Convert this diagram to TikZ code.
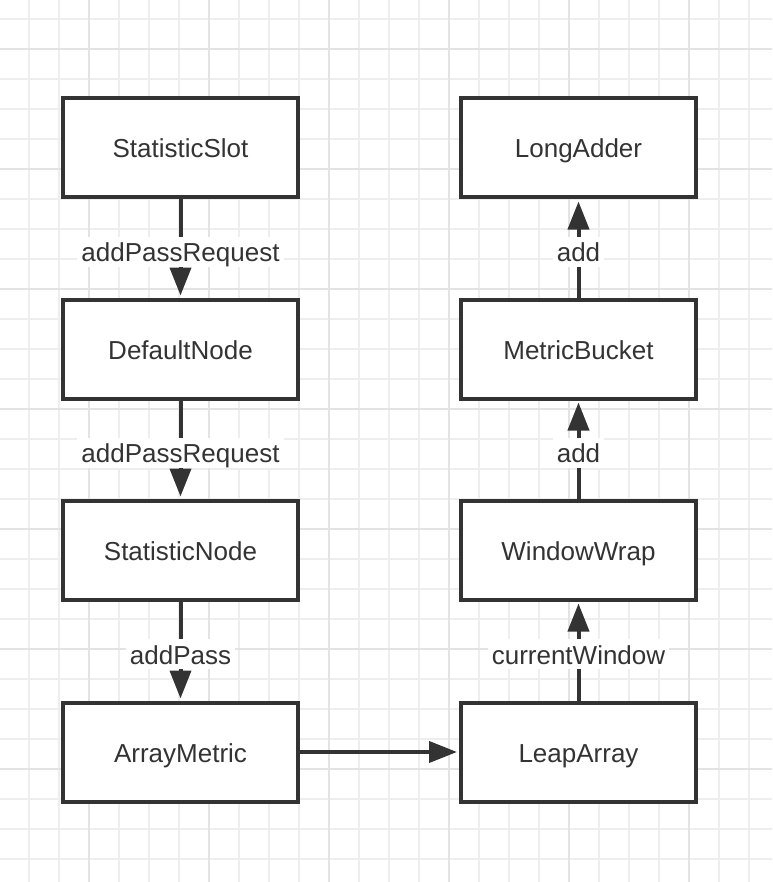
\documentclass[tikz,border=0pt]{standalone}
\usepackage{fontspec}
\setmainfont{Liberation Sans}
\usetikzlibrary{arrows.meta}
\definecolor{gridminor}{HTML}{EEEEEE}
\definecolor{gridmajor}{HTML}{E3E3E3}
\definecolor{ink}{HTML}{333333}

\begin{document}
\begin{tikzpicture}[x=0.5pt,y=0.5pt]
\tikzstyle{every node}+=[inner sep=0pt, font=\fontsize{13}{15}\selectfont, text=ink, text height=10.5pt, text depth=0.5pt]
\tikzstyle{box}=[draw=ink, line width=2pt, fill=white, minimum width=117.5pt, minimum height=49.5pt]
\tikzstyle{call}=[draw=ink, line width=2pt, shorten >=1pt, -{Triangle[length=14pt,width=10.5pt]}]
\tikzstyle{lbl}=[fill=white, inner sep=2pt, yshift=-1.5pt]
\useasboundingbox (0,0) rectangle (772,-882);
\fill [white] (0,0) rectangle (772,-882);
\foreach \x in {29,59,...,749} \draw [gridminor, line width=0.75pt] (\x,0) -- (\x,-882);
\foreach \y in {19,49,...,859} \draw [gridminor, line width=0.75pt] (0,-\y) -- (772,-\y);
\foreach \x in {89,209,...,689} \draw [gridmajor, line width=1pt] (\x,0) -- (\x,-882);
\foreach \y in {49,169,...,769} \draw [gridmajor, line width=1pt] (0,-\y) -- (772,-\y);
\node [box] (slot) at (180.5,-148) {StatisticSlot};
\node [box] (dnode) at (180.5,-349) {DefaultNode};
\node [box] (snode) at (180.5,-550) {StatisticNode};
\node [box] (ametric) at (180.5,-752) {ArrayMetric};
\node [box] (adder) at (578.5,-148) {LongAdder};
\node [box] (bucket) at (578.5,-349) {MetricBucket};
\node [box] (wrap) at (578.5,-550) {WindowWrap};
\node [box] (leap) at (578.5,-752) {LeapArray};
\draw [call] (slot) -- node [lbl] {addPassRequest} (dnode);
\draw [call] (dnode) -- node [lbl] {addPassRequest} (snode);
\draw [call] (snode) -- node [lbl] {addPass} (ametric);
\draw [call] (ametric) -- (leap);
\draw [call] (leap) -- node [lbl] {currentWindow} (wrap);
\draw [call] (wrap) -- node [lbl] {add} (bucket);
\draw [call] (bucket) -- node [lbl] {add} (adder);
\end{tikzpicture}
\end{document}
